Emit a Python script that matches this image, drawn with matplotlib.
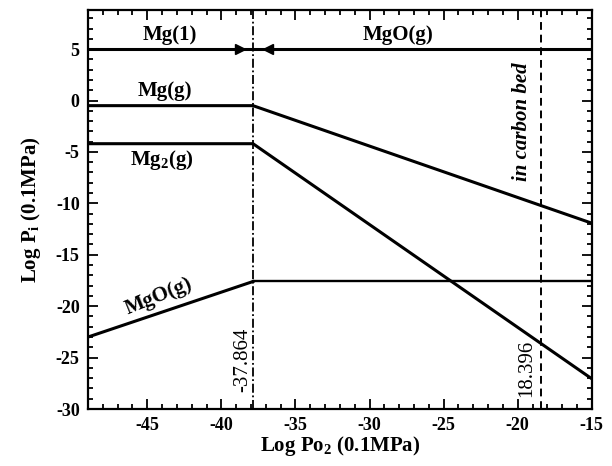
import matplotlib.pyplot as plt
from matplotlib.ticker import MultipleLocator

plt.rcParams['font.family'] = 'Liberation Serif'
plt.rcParams['font.weight'] = 'bold'
plt.rcParams['axes.labelweight'] = 'bold'
plt.rcParams['axes.unicode_minus'] = False
plt.rcParams['mathtext.fontset'] = 'custom'
plt.rcParams['mathtext.rm'] = 'Liberation Serif:bold'
plt.rcParams['mathtext.bf'] = 'Liberation Serif:bold'
plt.rcParams['mathtext.default'] = 'bf'

# --- data ---
X_MIN, X_MAX = -49.0, -15.0
X_BREAK = -37.864          # Mg(l)/MgO boundary
X_CARBON = -18.396         # carbon bed Po2

mg_liq_x = [X_MIN, X_MAX]
mg_liq_y = [5.0, 5.0]

mg_g_x = [X_MIN, X_BREAK, X_MAX]
mg_g_y = [-0.5, -0.5, -11.93]

mg2_g_x = [X_MIN, X_BREAK, X_MAX]
mg2_g_y = [-4.2, -4.2, -27.06]

mgo_g_x = [X_MIN, X_BREAK, X_MAX]
mgo_g_y = [-23.0, -17.6, -17.6]

arrow_x = [-38.75, -36.85]
arrow_y = [5.0, 5.0]

fig = plt.figure(figsize=(6.12, 4.66), dpi=100)
ax = fig.add_axes([0.1438, 0.1223, 0.8232, 0.8562])

ax.plot(mg_liq_x, mg_liq_y, color='black', lw=2.2)
ax.plot(mg_g_x, mg_g_y, color='black', lw=2.2)
ax.plot(mg2_g_x, mg2_g_y, color='black', lw=2.2)
ax.plot(mgo_g_x[:2], mgo_g_y[:2], color='black', lw=2.2)
ax.plot(mgo_g_x[1:], mgo_g_y[1:], color='black', lw=1.7)

ax.plot(arrow_x[0], arrow_y[0], marker='>', ms=7, color='black')
ax.plot(arrow_x[1], arrow_y[1], marker='<', ms=7, color='black')

ax.axvline(X_BREAK, color='black', lw=1.3, linestyle=(0, (5, 1.5, 1, 1.5)))
ax.axvline(X_CARBON, color='black', lw=1.4, linestyle=(0, (4, 2.5)))

# labels
ax.text(-43.5, 6.4, 'Mg(1)', fontsize=15, ha='center', va='center')
ax.text(-28.1, 6.4, 'MgO(g)', fontsize=15, ha='center', va='center')
ax.text(-43.8, 0.9, 'Mg(g)', fontsize=15, ha='center', va='center')
ax.text(-44.0, -5.8, 'Mg$_2$(g)', fontsize=15, ha='center', va='center')
ax.text(-44.2, -19.1, 'MgO(g)', fontsize=15, ha='center', va='center',
        rotation=22, rotation_mode='anchor')
ax.text(-38.55, -25.2, '-37.864', fontsize=15, ha='center', va='center',
        rotation=90, fontweight='normal')
ax.text(-19.4, -26.0, '18.396', fontsize=15, ha='center', va='center',
        rotation=90, fontweight='normal')
ax.text(-19.7, -2.1, 'in carbon bed', fontsize=15, ha='center', va='center',
        rotation=90, style='italic')

ax.set_xlim(X_MIN, X_MAX)
ax.set_ylim(-30, 8.8)
ax.xaxis.set_major_locator(MultipleLocator(5))
ax.xaxis.set_minor_locator(MultipleLocator(1))
ax.yaxis.set_major_locator(MultipleLocator(5))
ax.yaxis.set_minor_locator(MultipleLocator(1))
ax.tick_params(which='both', direction='in', top=True, right=True,
               labelsize=13, width=1.3)
ax.tick_params(which='major', length=7, pad=6)
ax.tick_params(which='minor', length=3.5)
for s in ax.spines.values():
    s.set_linewidth(1.6)

ax.set_xlabel('Log Po$_2$ (0.1MPa)', fontsize=15, labelpad=0)
ax.set_ylabel('Log P$_\\mathbf{i}$ (0.1MPa)', fontsize=15, labelpad=9)

fig.savefig('out.png', dpi=100)
